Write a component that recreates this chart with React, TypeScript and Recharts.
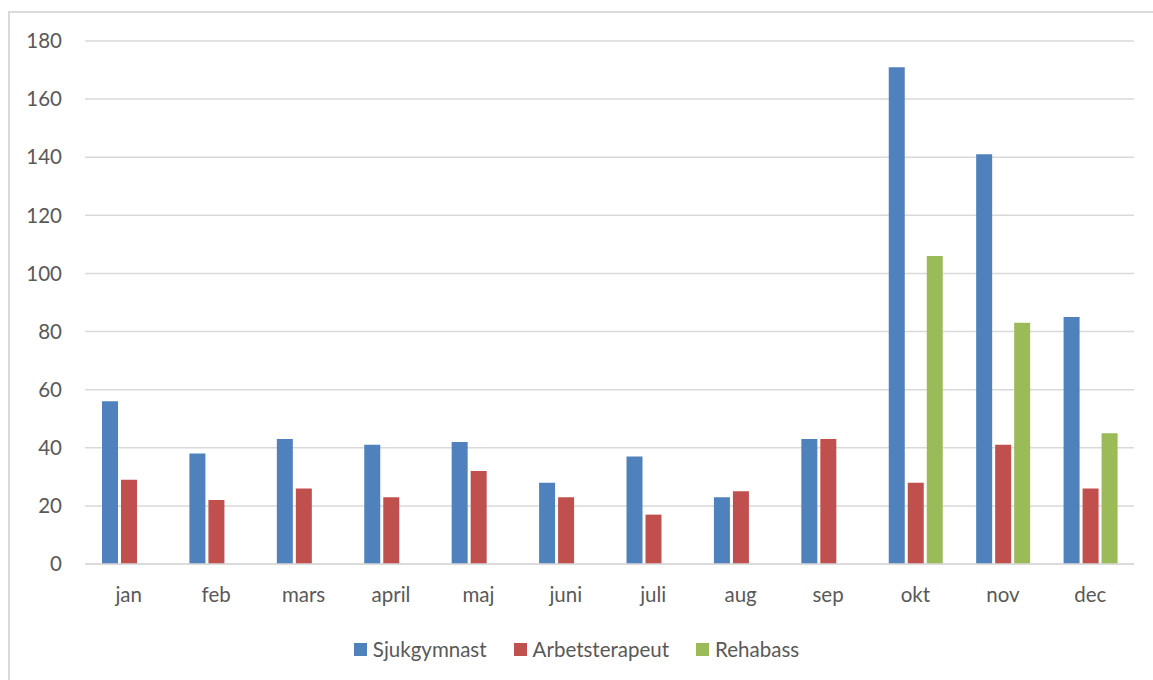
import React from "react"
import {
  BarChart,
  Bar,
  XAxis,
  YAxis,
  CartesianGrid,
  Legend,
} from "recharts"

const months = ["jan", "feb", "mars", "april", "maj", "juni", "juli", "aug", "sep", "okt", "nov", "dec"]
const sjukgymnast = [56, 38, 43, 41, 42, 28, 37, 23, 43, 171, 141, 85]
const arbetsterapeut = [29, 22, 26, 23, 32, 23, 17, 25, 43, 28, 41, 26]
const rehabass = [null, null, null, null, null, null, null, null, null, 106, 83, 45]
const yTicks = [0, 20, 40, 60, 80, 100, 120, 140, 160, 180]

const series = [
  { key: "Sjukgymnast", color: "#4F81BD" },
  { key: "Arbetsterapeut", color: "#C0504D" },
  { key: "Rehabass", color: "#9BBB59" },
]

const data = months.map((m, i) => ({
  month: m,
  Sjukgymnast: sjukgymnast[i],
  Arbetsterapeut: arbetsterapeut[i],
  Rehabass: rehabass[i],
}))

const font = "Lato, 'Open Sans', sans-serif"
const textColor = "#595959"

function LegendContent() {
  return (
    <div style={{ display: "flex", justifyContent: "center", gap: 27, fontFamily: font, fontSize: 20.5, color: textColor, lineHeight: "24px" }}>
      {series.map((s) => (
        <div key={s.key} style={{ display: "flex", alignItems: "center" }}>
          <span style={{ width: 13, height: 13, background: s.color, display: "inline-block", marginRight: 6 }} />
          <span>{s.key}</span>
        </div>
      ))}
    </div>
  )
}

export default function App() {
  return (
    <div style={{ position: "absolute", left: 0, top: 0, width: 1153, height: 680, background: "#fff", overflow: "hidden" }}>
      <div
        style={{
          position: "absolute",
          left: 8,
          top: 11,
          width: 1200,
          height: 720,
          borderLeft: "2px solid #d9d9d9",
          borderTop: "2px solid #d9d9d9",
        }}
      />
      <div style={{ position: "absolute", left: 0, top: 0 }}>
        <BarChart
          width={1153}
          height={680}
          data={data}
          margin={{ top: 41, right: 19, left: 0, bottom: 0 }}
          barGap={3}
          barSize={16}
        >
          <CartesianGrid vertical={false} stroke="#d9d9d9" strokeWidth={1.5} />
          <XAxis
            dataKey="month"
            height={92}
            tickLine={false}
            tickSize={0}
            tickMargin={23}
            axisLine={{ stroke: "#d9d9d9", strokeWidth: 1.5 }}
            tick={{ fill: textColor, fontSize: 20.5, fontFamily: font }}
            interval={0}
          />
          <YAxis
            width={85}
            domain={[0, 180]}
            ticks={yTicks}
            axisLine={false}
            tickLine={false}
            tickSize={0}
            tickMargin={23}
            tick={{ fill: textColor, fontSize: 20.5, fontFamily: font }}
          />
          <Legend content={<LegendContent />} wrapperStyle={{ top: 637, left: 0, width: 1153 }} />
          {series.map((s) => (
            <Bar key={s.key} dataKey={s.key} fill={s.color} isAnimationActive={false} />
          ))}
        </BarChart>
      </div>
    </div>
  )
}
